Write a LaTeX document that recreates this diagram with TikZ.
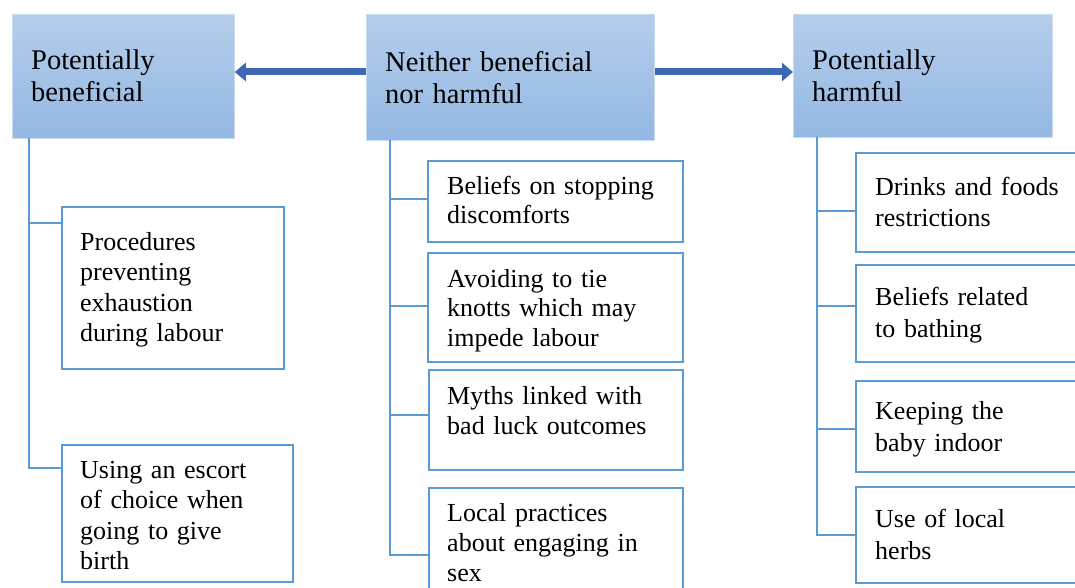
\documentclass[tikz,border=0pt]{standalone}
\usepackage{fontspec}
\setmainfont{Liberation Serif}
\usetikzlibrary{arrows.meta}
\definecolor{hdrtop}{RGB}{181,205,235}
\definecolor{hdrbot}{RGB}{147,184,227}
\definecolor{hdredge}{RGB}{200,219,241}
\definecolor{itemedge}{RGB}{91,155,213}
\definecolor{arrowblue}{RGB}{62,104,180}
\tikzset{
  hdrbox/.style={rectangle, draw=hdredge, line width=0.8pt, top color=hdrtop, bottom color=hdrbot, anchor=north west, inner sep=0pt},
  itembox/.style={rectangle, draw=itemedge, line width=2.4pt, fill=white, anchor=north west, inner sep=0pt},
  hdrtext/.style={font=\fontsize{28.5}{32}\selectfont, inner sep=0pt, align=left, text width=260pt, anchor=base west},
  itemtext/.style={font=\fontsize{26}{30.5}\selectfont, inner sep=0pt, align=left, text width=230pt, anchor=base west},
  conn/.style={draw=itemedge, line width=2pt},
  blockarrow/.style={draw=arrowblue, line width=7pt, -{Triangle[length=11pt, width=18pt]}}
}
\begin{document}
\begin{tikzpicture}[x=1pt, y=-1pt]
\useasboundingbox (0,0) rectangle (1075,588);
\clip (0,0) rectangle (1075,588);
% header boxes
\node[hdrbox, minimum width=222pt, minimum height=124pt] (hl) at (12,14) {};
\node[hdrbox, minimum width=288pt, minimum height=126pt] (hm) at (366,14) {};
\node[hdrbox, minimum width=259pt, minimum height=123pt] (hr) at (793,14) {};
\node[hdrtext] (thl) at (31,70) {Potentially\\beneficial};
\node[hdrtext] (thm) at (385,72) {Neither beneficial\\nor harmful};
\node[hdrtext] (thr) at (812,70) {Potentially\\harmful};
% arrows
\draw[blockarrow] (hm.west |- 0,72) -- (hl.east |- 0,72);
\draw[blockarrow] (hm.east |- 0,72) -- (hr.west |- 0,72);
% item boxes left
\node[itembox, minimum width=222pt, minimum height=162pt] (l1) at (61,206) {};
\node[itembox, minimum width=231pt, minimum height=137pt] (l2) at (61,444) {};
% middle
\node[itembox, minimum width=255pt, minimum height=81pt] (m1) at (427,160) {};
\node[itembox, minimum width=255pt, minimum height=109pt] (m2) at (427,252) {};
\node[itembox, minimum width=254pt, minimum height=100pt] (m3) at (428,369) {};
\node[itembox, minimum width=254pt, minimum height=120pt] (m4) at (428,487) {};
% right
\node[itembox, minimum width=240pt, minimum height=99pt] (r1) at (855,152) {};
\node[itembox, minimum width=240pt, minimum height=97pt] (r2) at (855,264) {};
\node[itembox, minimum width=240pt, minimum height=91pt] (r3) at (855,380) {};
\node[itembox, minimum width=240pt, minimum height=96pt] (r4) at (855,486) {};
% texts
\node[itemtext] (tl1) at (80,250) {Procedures\\preventing\\exhaustion\\during labour};
\node[itemtext] (tl2) at (80,478) {Using an escort\\of choice when\\going to give\\birth};
\node[itemtext, font=\fontsize{26}{29.5}\selectfont] (tm1) at (447,194) {Beliefs on stopping\\discomforts};
\node[itemtext, font=\fontsize{26}{29.5}\selectfont] (tm2) at (447,287) {Avoiding to tie\\knotts which may\\impede labour};
\node[itemtext, font=\fontsize{26}{30}\selectfont] (tm3) at (447,404) {Myths linked with\\bad luck outcomes};
\node[itemtext, font=\fontsize{26}{30}\selectfont] (tm4) at (447,521) {Local practices\\about engaging in\\sex};
\node[itemtext, font=\fontsize{26}{32}\selectfont] (tr1) at (875,195) {Drinks and foods\\restrictions};
\node[itemtext, font=\fontsize{26}{32}\selectfont] (tr2) at (875,305) {Beliefs related\\to bathing};
\node[itemtext, font=\fontsize{26}{32}\selectfont] (tr3) at (875,419) {Keeping the\\baby indoor};
\node[itemtext, font=\fontsize{26}{32}\selectfont] (tr4) at (875,527) {Use of local\\herbs};
% connectors
\coordinate (tkl) at (29,138);
\coordinate (tkm) at (390,140);
\coordinate (tkr) at (817,137);
\draw[conn] (tkl) |- (l1.west |- 0,223);
\draw[conn] (tkl) |- (l2.west |- 0,468);
\draw[conn] (tkm) |- (m1.west |- 0,199);
\draw[conn] (tkm) |- (m2.west |- 0,306);
\draw[conn] (tkm) |- (m3.west |- 0,415);
\draw[conn] (tkm) |- (m4.west |- 0,555);
\draw[conn] (tkr) |- (r1.west |- 0,211);
\draw[conn] (tkr) |- (r2.west |- 0,306);
\draw[conn] (tkr) |- (r3.west |- 0,429);
\draw[conn] (tkr) |- (r4.west |- 0,535);
\end{tikzpicture}
\end{document}
